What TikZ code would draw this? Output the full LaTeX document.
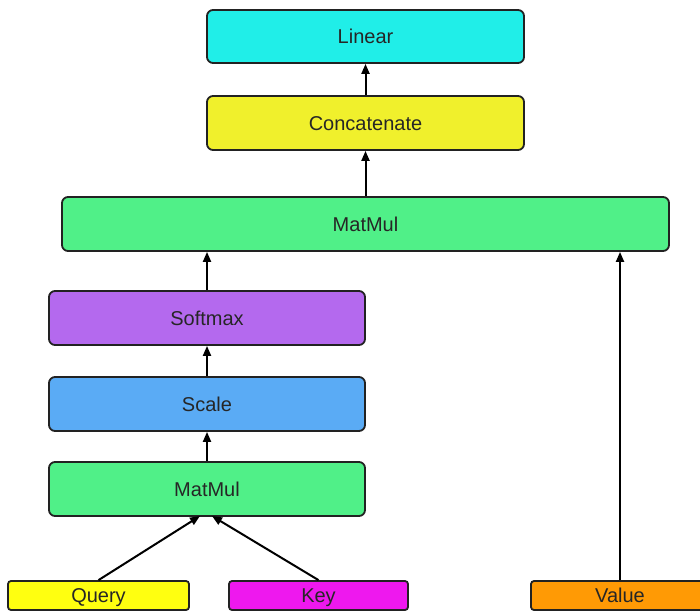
\documentclass[tikz,border=0pt]{standalone}
\usepackage{fontspec}
\setmainfont{Liberation Sans}
\usetikzlibrary{arrows.meta}
\definecolor{cLinear}{HTML}{20EEE8}
\definecolor{cConcat}{HTML}{F0F02C}
\definecolor{cMatMul}{HTML}{50F088}
\definecolor{cSoftmax}{HTML}{B469EE}
\definecolor{cScale}{HTML}{5AABF5}
\definecolor{cQuery}{HTML}{FFFF10}
\definecolor{cKey}{HTML}{EE18EE}
\definecolor{cValue}{HTML}{FF9A05}
\definecolor{cEdge}{HTML}{222222}
\begin{document}
\begin{tikzpicture}[x=1pt,y=-1pt,
  label text/.style={font=\fontsize{20}{24}\selectfont,text=black!85,
    text height=14.5pt,text depth=0pt},
  opbox/.style={draw=cEdge,line width=1.8pt,rounded corners=6pt,inner sep=0pt,label text},
  inbox/.style={draw=cEdge,line width=1.8pt,rounded corners=3pt,inner sep=0pt,label text},
  flow/.style={draw=black,line width=2pt,-{Triangle[length=10pt,width=8pt]}}]
\useasboundingbox (0,0) rectangle (700,612);
\path[clip] (0,0) rectangle (700,612);
% main pipeline blocks
\node[opbox,fill=cLinear,minimum width=317pt,minimum height=53pt] (lin) at (365.5,36.5) {Linear};
\node[opbox,fill=cConcat,minimum width=317pt,minimum height=54pt] (cat) at (365.5,123) {Concatenate};
\node[opbox,fill=cMatMul,minimum width=607pt,minimum height=54pt] (mm2) at (365.5,224) {MatMul};
\node[opbox,fill=cSoftmax,minimum width=316pt,minimum height=54pt] (sm) at (207,318) {Softmax};
\node[opbox,fill=cScale,minimum width=316pt,minimum height=54pt] (sc) at (207,404) {Scale};
\node[opbox,fill=cMatMul,minimum width=316pt,minimum height=54pt] (mm1) at (207,489) {MatMul};
% inputs
\node[inbox,fill=cQuery,minimum width=181pt,minimum height=29pt] (q) at (98.5,595.5) {Query};
\node[inbox,fill=cKey,minimum width=179pt,minimum height=29pt] (k) at (318.5,595.5) {Key};
\node[inbox,fill=cValue,minimum width=178pt,minimum height=29pt] (v) at (620,595.5) {Value};
% connectors
\coordinate (mq) at (200,516);
\coordinate (mk) at (212,516);
\draw[flow] (q.north) -- (mq);
\draw[flow] (k.north) -- (mk);
\draw[flow] (mm1) -- (sc);
\draw[flow] (sc) -- (sm);
\draw[flow] (sm.north) -- (sm.north |- mm2.south);
\draw[flow] (v.north) -- (v.north |- mm2.south);
\draw[flow] (mm2.north -| cat.south) -- (cat.south);
\draw[flow] (cat) -- (lin);
\end{tikzpicture}
\end{document}
